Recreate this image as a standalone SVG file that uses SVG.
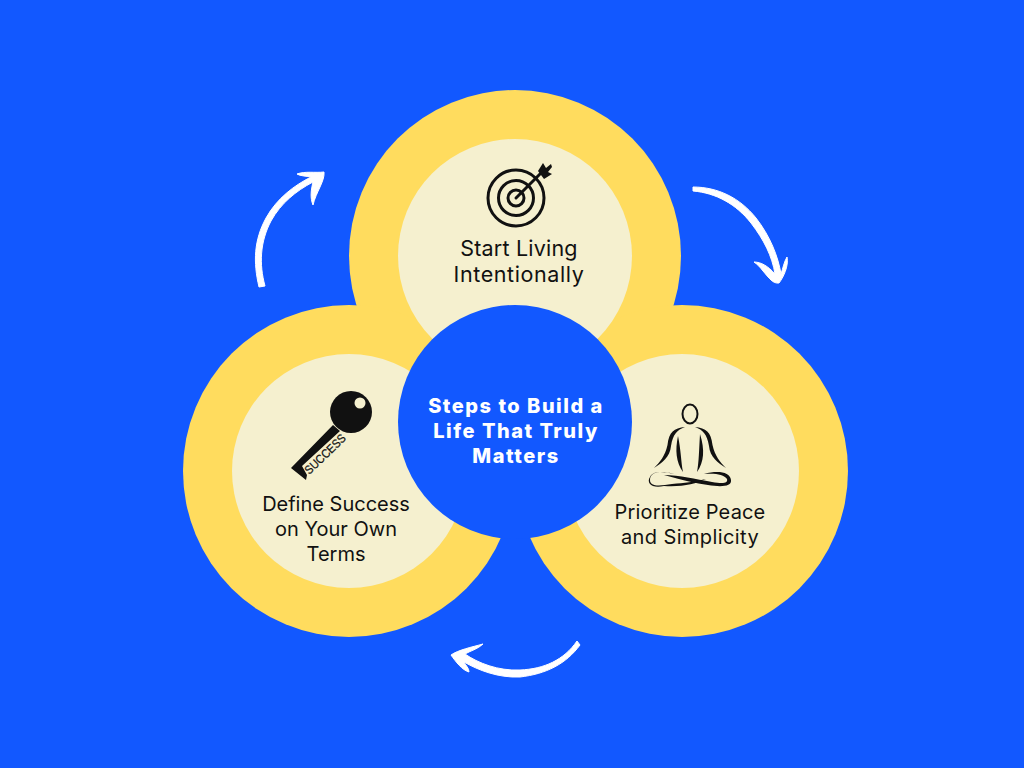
<svg xmlns="http://www.w3.org/2000/svg" width="1024" height="768" viewBox="0 0 1024 768">
<style>
.y{fill:#FFDC5E}.c{fill:#F5F0CF}
.t{font-family:"Inter","Noto Sans",sans-serif;font-size:20px;fill:#111;text-anchor:middle}
.u{font-size:21.5px}
.h{font-family:"Inter","DejaVu Sans",sans-serif;font-weight:800;font-size:20px;fill:#fff;text-anchor:middle;letter-spacing:1.5px}
.a{fill:#fff;stroke:#fff;stroke-width:1;stroke-linejoin:round}
.i{fill:none;stroke:#111;stroke-linecap:round}
.f{fill:#111;stroke:none}
</style>
<rect width="1024" height="768" fill="#1258FF"/>
<g id="rings"><circle class="y" cx="515" cy="256" r="166"/><circle class="y" cx="349" cy="471" r="166"/><circle class="y" cx="682" cy="471" r="166"/></g>
<g id="node-top">
<circle class="c" cx="515" cy="256" r="117"/>
<g class="i" stroke-width="3"><circle cx="516" cy="198" r="28"/><circle cx="516" cy="198" r="17.5"/><circle cx="516" cy="198" r="8"/><path d="M516 198L541 173"/></g>
<path class="f" d="M538 171L543 163L546 168L551 164L552 167L548 172L552 174L544 179Z"/>
<text class="t u" x="519" y="256" letter-spacing=".2">Start Living</text><text class="t u" x="519" y="282" letter-spacing=".6">Intentionally</text>
</g>
<g id="node-left">
<circle class="c" cx="349" cy="471" r="117"/>
<path class="f" d="M291 468L333 425L340 431L302 466L307 475L306 480Z"/>
<circle class="f" cx="351" cy="412" r="21"/><circle class="c" cx="360" cy="403" r="5.500"/>
<text x="0" y="0" transform="translate(328 457) rotate(-44)" font-family="Liberation Sans,sans-serif" font-size="12" fill="#111" stroke="#111" stroke-width=".25" text-anchor="middle" textLength="52" lengthAdjust="spacingAndGlyphs">SUCCESS</text>
<text class="t" x="336" y="511">Define Success</text><text class="t" x="336" y="536">on Your Own</text><text class="t" x="336" y="561">Terms</text>
</g>
<g id="node-right">
<circle class="c" cx="682" cy="471" r="117"/>
<ellipse cx="690" cy="414" rx="7.500" ry="9.500" fill="none" stroke="#111" stroke-width="2"/>
<path class="f" d="M685 427C674 428 669 432 667.500 445C665 456 660 462 654 468C662 463 670 457 671 446C673 434 677 430 685 427Z"/>
<path class="f" d="M695 427C706 428 711 432 712.500 445C715 456 720 462 726 468C718 463 710 457 709 446C707 434 703 430 695 427Z"/>
<path class="f" d="M678 436C675 450 676 462 683 472C681 462 681 450 678 436Z"/>
<path class="f" d="M700 434C705 450 704 462 697 472C699 462 699 450 700 434Z"/>
<path class="f" d="M674 474C660 470 650 472 650 480C650 487 660 486 672 484C685 483 693 482 706 479C695 484 683 487 664 486C652 489 646 483 650 477C654 470 664 472 674 474Z"/>
<path class="f" d="M704 474C718 470 730 472 731 480C732 487 720 487 708 485C695 483 685 481 664 475C680 475 695 479 712 482C724 484 728 483 727 479C724 474 714 473 704 474Z"/>
<text class="t" x="690" y="519" letter-spacing=".15">Prioritize Peace</text><text class="t" x="690" y="544" letter-spacing=".4">and Simplicity</text>
</g>
<g id="node-center">
<circle cx="515" cy="422" r="117" fill="#1258FF"/>
<text class="h" x="516" y="413">Steps to Build a</text><text class="h" x="516" y="438">Life That Truly</text><text class="h" x="516" y="463">Matters</text>
</g>
<g id="connectors">
<path class="a" d="M259 287C253 262 254 240 266 218C277 198 295 185 311 177C306 176 300 176 297 174C305 171 315 173 324 172C325 181 316 192 313 205C310 198 311 190 313 182C296 191 281 203 271 221C260 242 259 264 265 286Z"/>
<path class="a" d="M693 187C718 187 740 198 756 218C770 236 778 256 781 274C783 268 784 262 787 257C789 266 783 278 779 283C773 284 769 278 763 271C760 267 757 264 754 262C761 262 768 266 775 274C772 256 764 240 751 223C736 204 716 193 693 191Z"/>
<path class="a" d="M577 641L580 645C566 664 546 674 520 677C498 678 478 670 464 662C466 666 469 668 469 672C462 670 456 662 451 655C458 650 472 647 483 644C478 649 470 651 465 654C478 663 498 671 520 670C544 669 564 660 577 641Z"/>
</g>
</svg>
